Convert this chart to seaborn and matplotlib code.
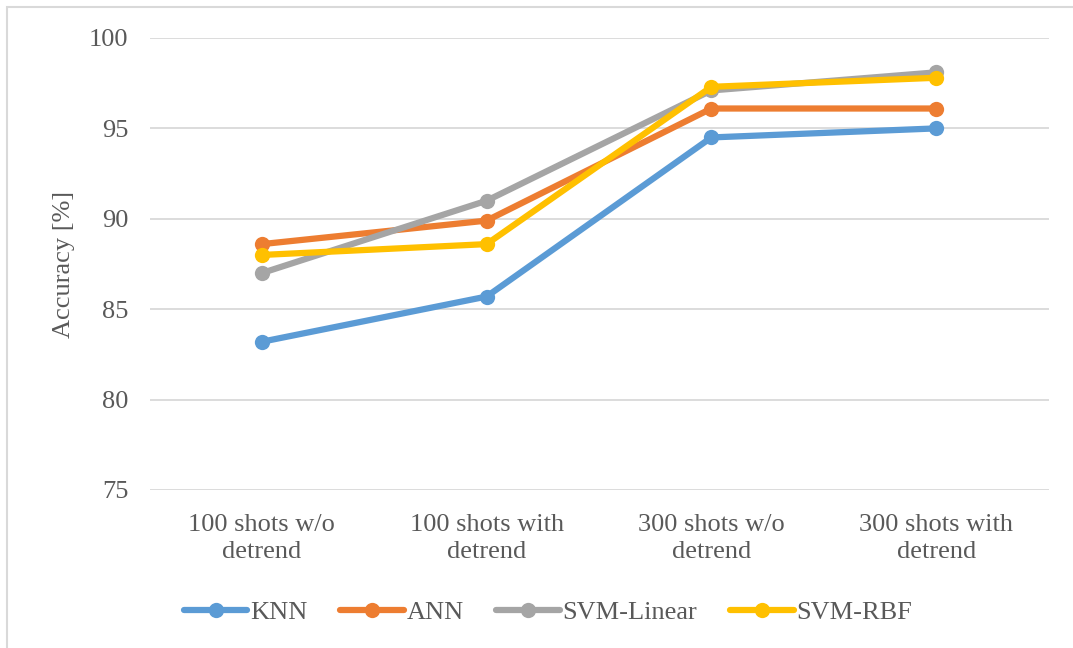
import matplotlib
matplotlib.use("Agg")
import matplotlib.pyplot as plt
import seaborn as sns
import pandas as pd
from matplotlib.patches import Rectangle

# Experimental settings (x axis)
conditions = ["100 shots w/o\ndetrend", "100 shots with\ndetrend",
              "300 shots w/o\ndetrend", "300 shots with\ndetrend"]

# Classification accuracy [%] per model
knn = [83.2, 85.7, 94.5, 95.0]
ann = [88.6, 89.9, 96.1, 96.1]
svm_linear = [87.0, 91.0, 97.1, 98.1]
svm_rbf = [88.0, 88.6, 97.3, 97.8]

models = ["KNN", "ANN", "SVM-Linear", "SVM-RBF"]
colors = ["#5B9BD5", "#ED7D31", "#A5A5A5", "#FFC000"]

df = pd.DataFrame({
    "condition": conditions * 4,
    "accuracy": knn + ann + svm_linear + svm_rbf,
    "model": [m for m in models for _ in conditions],
})

sns.set_style("white")
plt.rcParams["font.family"] = ["Liberation Serif", "DejaVu Serif"]
text_color = "#595959"
fs = 19

fig = plt.figure(figsize=(10.73, 6.48), dpi=100)
ax = fig.add_axes([149.5 / 1073, 1 - 490 / 648, 899 / 1073, 452 / 648])

sns.lineplot(data=df, x="condition", y="accuracy", hue="model",
             hue_order=models, palette=colors, marker="o", markersize=11,
             markeredgewidth=0, linewidth=4.5, sort=False, ax=ax, legend=False)

ax.set_xlim(-0.5, 3.5)
ax.set_ylim(75, 100)
ax.set_yticks([75, 80, 85, 90, 95, 100])
ax.grid(axis="y", color="#D9D9D9", linewidth=1.3)
ax.set_axisbelow(True)
for s in ax.spines.values():
    s.set_visible(False)
ax.tick_params(axis="both", length=0, labelsize=fs, colors=text_color)
ax.tick_params(axis="y", pad=15)
ax.tick_params(axis="x", pad=17)
for lbl in ax.get_xticklabels():
    lbl.set_linespacing(1.3)
ax.set_xlabel("")
ax.set_ylabel("Accuracy [%]", fontsize=fs, color=text_color, labelpad=10)

# Legend along the bottom
handles = [plt.Line2D([], [], color=c, linewidth=4.5, marker="o",
                      markersize=11, markeredgewidth=0) for c in colors]
fig.legend(handles, models, loc="center",
           bbox_to_anchor=(548 / 1073, 1 - 612 / 648),
           ncol=4, frameon=False, fontsize=fs, handlelength=2.4,
           handletextpad=0.1, columnspacing=1.25, labelcolor=text_color)

# Chart-area border
fig.patches.append(Rectangle((7 / 1073, -0.05), 1.2, 1 - 7 / 648 + 0.05,
                             transform=fig.transFigure, fill=False,
                             edgecolor="#D9D9D9", linewidth=1.5))

fig.savefig("out.png", dpi=100, facecolor="white")
